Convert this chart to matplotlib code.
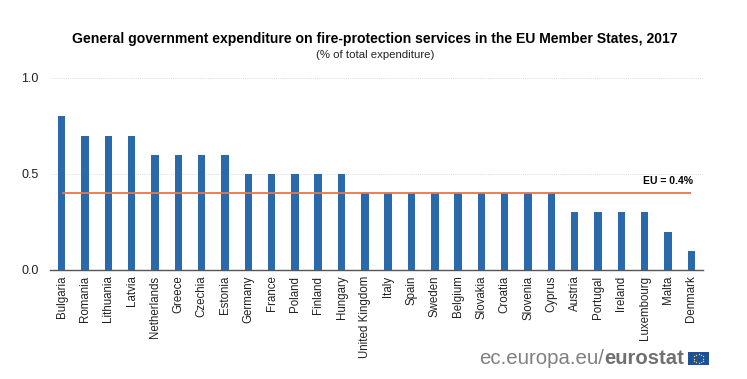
import numpy as np
import matplotlib
matplotlib.use('Agg')
import matplotlib.pyplot as plt
from matplotlib.patches import Rectangle

countries = ['Bulgaria', 'Romania', 'Lithuania', 'Latvia', 'Netherlands', 'Greece', 'Czechia', 'Estonia',
             'Germany', 'France', 'Poland', 'Finland', 'Hungary', 'United Kingdom', 'Italy', 'Spain',
             'Sweden', 'Belgium', 'Slovakia', 'Croatia', 'Slovenia', 'Cyprus', 'Austria', 'Portugal',
             'Ireland', 'Luxembourg', 'Malta', 'Denmark']
values = [0.8, 0.7, 0.7, 0.7, 0.6, 0.6, 0.6, 0.6, 0.5, 0.5, 0.5, 0.5, 0.5, 0.4, 0.4, 0.4,
          0.4, 0.4, 0.4, 0.4, 0.4, 0.4, 0.3, 0.3, 0.3, 0.3, 0.2, 0.1]
eu_value = 0.4
yticks = [0.0, 0.5, 1.0]

W, H = 747, 379
plt.rcParams['font.family'] = ['Liberation Sans', 'DejaVu Sans']

fig = plt.figure(figsize=(W / 100, H / 100), dpi=100)
ax = fig.add_axes([50 / W, 1 - 270 / H, 653 / W, 192 / H])

x = np.arange(len(countries))
ax.bar(x, values, width=0.32, color='#2a6aab', zorder=2)
ax.plot([x[0], x[-1]], [eu_value, eu_value], color='#e8764a', lw=1.3, zorder=3, solid_capstyle='butt')
ax.text(x[-1] + 0.05, eu_value + 0.035, 'EU = 0.4%', ha='right', va='bottom', fontsize=7.5,
        fontweight='bold', color='black')

ax.set_xlim(-0.5, len(countries) - 0.5)
ax.set_ylim(0, 1)
ax.set_yticks(yticks)
ax.set_yticklabels(['%.1f' % v for v in yticks], fontsize=9, color='#222222')
ax.set_xticks(x)
ax.set_xticklabels(countries, rotation=90, fontsize=8.3, color='#222222')
ax.tick_params(axis='both', length=0)
ax.tick_params(axis='x', pad=4)
ax.tick_params(axis='y', pad=8)
ax.grid(axis='y', color='#dddddd', lw=0.7, ls=(0, (1, 1)), zorder=0)
ax.set_axisbelow(True)
for s in ['top', 'right', 'left']:
    ax.spines[s].set_visible(False)
ax.spines['bottom'].set_color('#555555')
ax.spines['bottom'].set_linewidth(1)

fig.text(375 / W, 1 - 38.5 / H, 'General government expenditure on fire-protection services in the EU Member States, 2017',
         ha='center', va='center', fontsize=10.05, fontweight='bold', color='black')
fig.text(375.5 / W, 1 - 54.5 / H, '(% of total expenditure)', ha='center', va='center', fontsize=8.2, color='#222222')

# logo
fig.text(479 / W, 1 - 358 / H, 'ec.europa.eu/', ha='left', va='center', fontsize=14.7, color='#808080')
fig.text(604 / W, 1 - 358 / H, 'eurostat', ha='left', va='center', fontsize=14.6, fontweight='bold', color='#707070')
flag = fig.add_axes([688 / W, 1 - 365 / H, 21 / W, 13 / H])
flag.add_patch(Rectangle((0, 0), 1, 1, color='#1c4f9c'))
ang = np.arange(12) * np.pi / 6
flag.scatter(0.5 + 0.22 * np.cos(ang), 0.5 + 0.35 * np.sin(ang), s=1, color='#f3d02f', linewidths=0)
flag.set_xlim(0, 1)
flag.set_ylim(0, 1)
flag.axis('off')

fig.savefig('out.png', dpi=100)
